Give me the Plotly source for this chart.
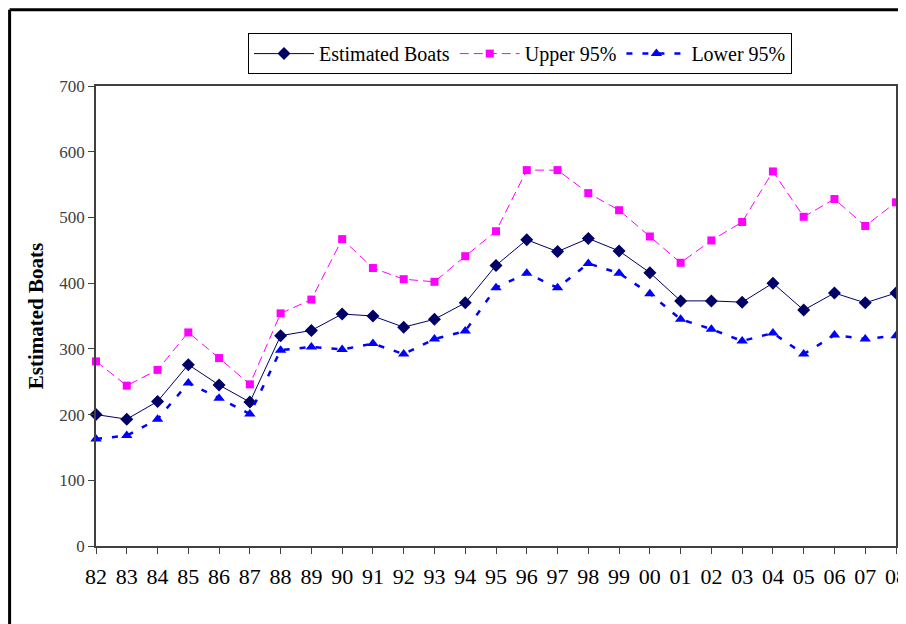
import plotly.graph_objects as go

years = ['82', '83', '84', '85', '86', '87', '88', '89', '90', '91', '92', '93', '94', '95',
         '96', '97', '98', '99', '00', '01', '02', '03', '04', '05', '06', '07', '08']

estimated = [200, 193, 220, 276, 245, 219, 320, 328, 353, 350, 333, 345, 370, 427,
             466, 448, 468, 449, 416, 373, 373, 371, 400, 359, 385, 370, 385]

upper_95 = [281, 244, 268, 325, 286, 246, 354, 375, 467, 423, 406, 402, 441, 479,
            572, 572, 537, 511, 471, 431, 465, 493, 570, 501, 528, 487, 523]

lower_95 = [163, 168, 193, 248, 225, 201, 298, 303, 299, 308, 292, 315, 327, 393,
            415, 393, 430, 415, 384, 345, 330, 312, 324, 292, 321, 315, 320]

xpos = list(range(len(years)))
serif = "Liberation Serif, Times New Roman, serif"

fig = go.Figure()

fig.add_trace(
    go.Scatter(x = xpos, y = estimated, name = 'Estimated Boats',
               mode = 'lines+markers', cliponaxis = False,
               line = dict(color = '#000066', width = 1),
               marker = dict(symbol = 'diamond', size = 10, color = '#000066')))

fig.add_trace(
    go.Scatter(x = xpos, y = upper_95, name = 'Upper 95%',
               mode = 'lines+markers', cliponaxis = False,
               line = dict(color = '#FF00FF', width = 1, dash = '9px,5px'),
               marker = dict(symbol = 'square', size = 8, color = '#FF00FF')))

fig.add_trace(
    go.Scatter(x = xpos, y = lower_95, name = 'Lower 95%',
               mode = 'lines+markers', cliponaxis = False,
               line = dict(color = '#0000FF', width = 2.5, dash = '6px,10px'),
               marker = dict(symbol = 'triangle-up', size = 10, color = '#0000FF')))

# outer black frame of the chart: only left and top edges are in view
fig.add_shape(type = 'line', xref = 'paper', yref = 'paper',
              x0 = -0.108, x1 = -0.108, y0 = -0.2, y1 = 1.166,
              line = dict(color = 'black', width = 3), layer = 'below')
fig.add_shape(type = 'line', xref = 'paper', yref = 'paper',
              x0 = -0.108, x1 = 1.03, y0 = 1.166, y1 = 1.166,
              line = dict(color = 'black', width = 3), layer = 'below')

fig.update_layout(
    autosize = False,
    width = 906, height = 624,
    margin = dict(l = 88, r = 18, t = 78, b = 86, autoexpand = False),
    plot_bgcolor = 'white', paper_bgcolor = 'white',
    font = dict(family = serif, color = 'black'),
    legend = dict(orientation = 'h', x = 0.53, xanchor = 'center', y = 1.115, yanchor = 'top',
                  bordercolor = 'black', borderwidth = 1, bgcolor = 'white',
                  font = dict(family = serif, size = 20), itemwidth = 60,
                  tracegroupgap = 0),
    xaxis = dict(range = [0, 26], tickvals = xpos, ticktext = years,
                 showgrid = False, zeroline = False, showline = True, mirror = True,
                 linecolor = '#404040', linewidth = 1.5, automargin = False,
                 ticks = 'outside', ticklen = 6, tickcolor = '#404040',
                 ticklabelstandoff = 4, ticklabeloverflow = 'allow',
                 tickfont = dict(family = serif, size = 22, color = 'black')),
    yaxis = dict(range = [0, 700], dtick = 100,
                 showgrid = False, zeroline = False, showline = True, mirror = True,
                 linecolor = '#404040', linewidth = 1.5, automargin = False,
                 ticks = 'outside', ticklen = 6, tickcolor = '#404040',
                 tickfont = dict(family = serif, size = 17, color = '#404040'),
                 title = dict(text = '<b>Estimated Boats</b>', standoff = 10,
                              font = dict(family = serif, size = 21, color = 'black'))),
)

fig.write_html("out.html")
